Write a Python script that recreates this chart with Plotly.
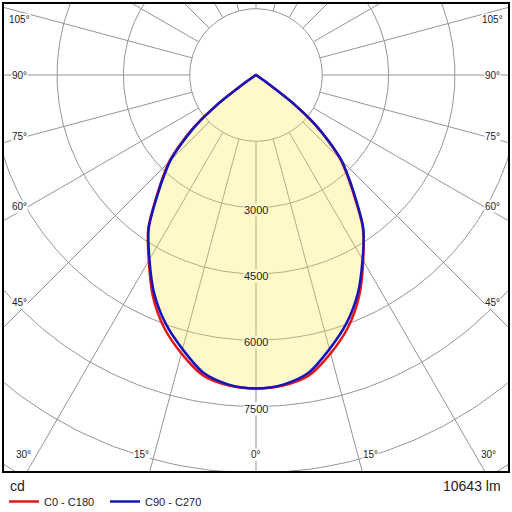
import numpy as np
import plotly.graph_objects as go

# ── Data (cd, per gamma angle in degrees) ───────────────────────────
GAMMA = [0, 5, 10, 15, 20, 25, 30, 35, 40, 42.5, 45, 47.5, 50, 52.5, 55, 57.5, 60, 70, 80, 90]
C0   = [7090, 7050, 6900, 6520, 6080, 5520, 4850, 4210, 3390, 3040, 2700, 2230, 1730, 1080, 240, 60, 20, 10, 0, 0]
C180 = [7090, 7050, 6900, 6520, 6080, 5520, 4850, 4250, 3450, 3110, 2780, 2320, 1820, 1150, 270, 60, 20, 10, 0, 0]
C90  = [7090, 7030, 6840, 6420, 5980, 5450, 4820, 4230, 3420, 3070, 2740, 2260, 1770, 1100, 250, 60, 20, 10, 0, 0]
C270 = [7090, 7030, 6840, 6420, 5980, 5450, 4820, 4230, 3420, 3070, 2740, 2260, 1770, 1100, 250, 60, 20, 10, 0, 0]

RINGS = [1500, 3000, 4500, 6000, 7500, 9000, 10500]
RING_LABELS = [3000, 4500, 6000, 7500]
SPOKES = list(range(0, 360, 15))
SIDE_LABELS = [45, 60, 75, 90, 105]
BOTTOM_LABELS = [0, 15, 30]
UNIT = "cd"
FLUX = "10643 lm"
# ───────────────────────────────────────────────────────────────────

PX = 22.62          # cd per pixel of the diagram
FONT = "Liberation Sans, Arial, sans-serif"
GRID = "#959595"
FILL_BG = "#fff9ca"


def curve(left, right):
    g = np.radians(GAMMA)
    lv, rv = np.array(left, float), np.array(right, float)
    x = np.concatenate([(-lv * np.sin(g))[::-1], (rv * np.sin(g))[1:]])
    y = np.concatenate([(-lv * np.cos(g))[::-1], (-rv * np.cos(g))[1:]])
    return x, y


fig = go.Figure()

# circles
t = np.linspace(0, 2 * np.pi, 361)
cx, cy = [], []
for r in RINGS:
    cx += list(r * np.sin(t)) + [None]
    cy += list(r * np.cos(t)) + [None]
fig.add_trace(go.Scatter(x=cx, y=cy, mode="lines", line=dict(color=GRID, width=1),
                         hoverinfo="skip", showlegend=False))

# spokes, starting at the first ring
sx, sy = [], []
for a in SPOKES:
    ra = np.radians(a)
    sx += [RINGS[0] * np.sin(ra), 14000 * np.sin(ra), None]
    sy += [-RINGS[0] * np.cos(ra), -14000 * np.cos(ra), None]
fig.add_trace(go.Scatter(x=sx, y=sy, mode="lines", line=dict(color=GRID, width=1),
                         hoverinfo="skip", showlegend=False))

bx, by = curve(C270, C90)
rx, ry = curve(C180, C0)

fig.add_trace(go.Scatter(x=bx, y=by, mode="lines", fill="toself",
                         fillcolor="rgba(255,235,80,0.30)",
                         line=dict(width=0, shape="spline", smoothing=0.8),
                         hoverinfo="skip", showlegend=False))
fig.add_trace(go.Scatter(x=rx, y=ry, mode="lines", name="C0 - C180",
                         line=dict(color="rgb(228,24,24)", width=2.5, shape="spline", smoothing=0.8)))
fig.add_trace(go.Scatter(x=bx, y=by, mode="lines", name="C90 - C270",
                         line=dict(color="rgb(20,20,190)", width=2.5, shape="spline", smoothing=0.8)))

annotations = []
for a in SIDE_LABELS:
    ra = np.radians(a)
    x = 236 * PX
    # on the spoke, but kept a little below the top frame
    y = min(-0.965 * x * np.cos(ra) / np.sin(ra), 56 * PX)
    for s in (-1, 1):
        annotations.append(dict(x=s * x, y=y, text=f"{a}°", showarrow=False,
                                font=dict(size=10, color="#222"), bgcolor="white", borderpad=0))
for a in BOTTOM_LABELS:
    y = -380 * PX
    x = 380 * PX * np.tan(np.radians(a))
    if a:
        x = min(x + 13 * PX, 235 * PX)
    for s in ((-1, 1) if a else (1,)):
        annotations.append(dict(x=s * x, y=y, text=f"{a}°", showarrow=False,
                                font=dict(size=10, color="#222"), bgcolor="white", borderpad=0))
for r in RING_LABELS:
    inside = r < max(C0)
    annotations.append(dict(x=0, y=-r - 2 * PX, text=str(r), showarrow=False,
                            font=dict(size=11, color="#222"),
                            bgcolor=FILL_BG if inside else "white", borderpad=0))

annotations.append(dict(xref="paper", yref="paper", x=(8 - 4) / 504, y=-(486 - 471) / 467,
                        xanchor="left", yanchor="middle", text=UNIT, showarrow=False,
                        font=dict(size=14, color="#222")))
annotations.append(dict(xref="paper", yref="paper", x=(503 - 4) / 504, y=-(486 - 471) / 467,
                        xanchor="right", yanchor="middle", text=FLUX, showarrow=False,
                        font=dict(size=14, color="#222")))

fig.update_layout(
    width=512, height=512,
    margin=dict(l=4, r=4, t=4, b=41, autoexpand=False),
    paper_bgcolor="white", plot_bgcolor="white",
    font=dict(family=FONT, color="#222"),
    xaxis=dict(range=[-5700, 5700], showgrid=False, zeroline=False, showticklabels=False,
               ticks="", showline=True, mirror=True, linecolor="black", linewidth=1.5),
    yaxis=dict(range=[-8958, 1606], showgrid=False, zeroline=False, showticklabels=False,
               ticks="", showline=True, mirror=True, linecolor="black", linewidth=1.5),
    legend=dict(orientation="h", x=0.0, xanchor="left", y=-(487 - 471) / 467, yanchor="top",
                font=dict(size=11, color="#222"), entrywidth=56, bgcolor="rgba(0,0,0,0)"),
    annotations=annotations,
    showlegend=True,
)

# the page body has a default 8px margin; drop it so the figure fills the window
fig.write_html("out.html", config={"displayModeBar": False},
               post_script="document.body.style.margin='0';")
